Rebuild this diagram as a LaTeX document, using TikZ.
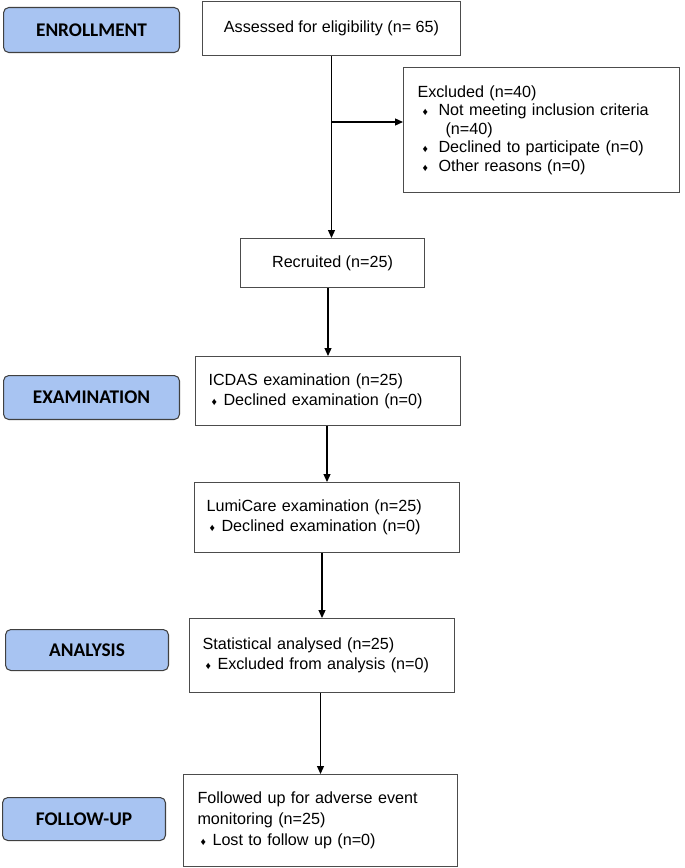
\documentclass[tikz,border=0pt]{standalone}
\usepackage{fontspec}
\setmainfont{Liberation Sans}
\newfontfamily\phasefont{Carlito}
\usetikzlibrary{arrows.meta}
\definecolor{phasefill}{RGB}{168,196,242}
\newcommand\dmd{{\fontsize{6}{6}\selectfont ♦}}
\newcommand\itm{\makebox[0.3cm][l]{\hspace{0.06cm}\dmd}}
\newcommand\xitm{\hspace{0.1cm}\makebox[0.32cm][l]{\dmd}}

\begin{document}
\begin{tikzpicture}[x=0.02cm,y=-0.02cm,
    phase/.style={draw=black!75,fill=phasefill,rounded corners=3pt,line width=0.6pt,
        anchor=north west,inner sep=0pt,font=\phasefont\bfseries\fontsize{11}{13}\selectfont},
    box/.style={draw=black!70,line width=0.6pt,anchor=north west,inner sep=0pt,
        font=\fontsize{9.2}{11.5}\selectfont},
    arr/.style={-{Triangle[length=1.6mm,width=1.4mm]},line width=0.7pt}]

    \useasboundingbox (0,0) rectangle (685,868);

    % phase labels
    \node[phase,minimum width=3.52cm,minimum height=0.9cm]  (enrol)    at (3,7)   {ENROLLMENT};
    \node[phase,minimum width=3.52cm,minimum height=0.88cm] (exam)     at (3,375) {EXAMINATION};
    \node[phase,minimum width=3.26cm,minimum height=0.82cm] (analysis) at (5,629) {ANALYSIS};
    \node[phase,minimum width=3.26cm,minimum height=0.86cm] (followup) at (2,797) {FOLLOW-UP};

    % flow boxes
    \node[box,minimum width=5.16cm,minimum height=1.08cm] (assess) at (202,1)
        {Assessed for eligibility (n= 65)};
    \node[box,minimum width=5.52cm,minimum height=2.5cm,text width=4.96cm,align=left,
        font=\fontsize{9.2}{10.5}\selectfont] (excl) at (403,67)
        {Excluded (n=40)\\
         \xitm Not meeting inclusion criteria\\
         \hspace{0.56cm}(n=40)\\
         \xitm Declined to participate (n=0)\\
         \xitm Other reasons (n=0)};
    \node[box,minimum width=3.68cm,minimum height=0.98cm] (recruit) at (240,238)
        {Recruited (n=25)};
    \node[box,minimum width=5.3cm,minimum height=1.38cm,text width=4.78cm,align=left] (icdas) at (195,356)
        {ICDAS examination (n=25)\\
         \itm Declined examination (n=0)};
    \node[box,minimum width=5.3cm,minimum height=1.4cm,text width=4.82cm,align=left] (lumi) at (194,482)
        {LumiCare examination (n=25)\\
         \itm Declined examination (n=0)};
    \node[box,minimum width=5.3cm,minimum height=1.48cm,text width=4.78cm,align=left] (stat) at (189,618)
        {Statistical analysed (n=25)\\
         \itm Excluded from analysis (n=0)};
    \node[box,minimum width=5.48cm,minimum height=1.84cm,text width=4.92cm,align=left,
        font=\fontsize{9.2}{12}\selectfont] (follow) at (183,774)
        {Followed up for adverse event monitoring (n=25)\\
         \itm Lost to follow up (n=0)};

    % connectors
    \coordinate (branch) at (331,122);
    \draw[arr] (assess.south) -- (recruit.north -| assess.south);
    \draw[arr] (branch) -- (branch -| excl.west);
    \draw[arr] (icdas.north |- recruit.south) -- (icdas.north);
    \draw[arr] (lumi.north |- icdas.south) -- (lumi.north);
    \draw[arr] (stat.north |- lumi.south) -- (stat.north);
    \draw[arr] (follow.north |- stat.south) -- (follow.north);

\end{tikzpicture}
\end{document}
